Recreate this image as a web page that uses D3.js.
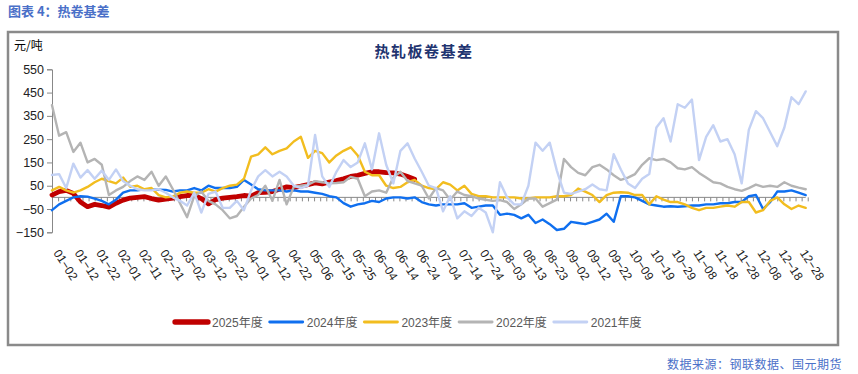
<!DOCTYPE html>
<html><head><meta charset="utf-8">
<script src="https://cdn.jsdelivr.net/npm/d3@7"></script>
<style>
body{margin:0;background:#fff;}
svg{display:block;font-family:"Liberation Sans",Arial,sans-serif;}
</style></head>
<body><svg id="c" width="858" height="374"></svg>
<script>
const tickLabels = ["01-02","01-12","01-22","02-01","02-11","02-21","03-02","03-12","03-22","04-01","04-12","04-22","05-06","05-15","05-25","06-04","06-14","06-24","07-04","07-14","07-24","08-03","08-13","08-23","09-02","09-12","09-22","10-09","10-19","10-29","11-08","11-18","11-28","12-08","12-18","12-28"];
const yTicks = [550,450,350,250,150,50,-50,-150];
const seriesNames = ["2025年度","2024年度","2023年度","2022年度","2021年度"];
const seriesColors = ["#c00000","#0f6fef","#f2bd1f","#b4b4b4","#c3d1f4"];
const seriesWidths = [4.8,2.4,2.4,2.4,2.4];

const s2025 = [10,25,30,17,-20,-40,-30,-35,-42,-25,-12,-3,0,3,-5,-12,-8,-3,3,8,10,-5,-28,-10,-3,0,3,8,5,20,22,25,35,45,42,48,55,62,58,66,72,80,90,95,103,110,110,106,105,100,90,78];
const s2024 = [-55,-30,-15,0,5,3,-5,-15,-30,-10,20,30,30,35,33,33,32,25,30,30,40,30,50,40,40,40,45,75,55,35,30,30,30,25,30,25,25,20,15,5,0,-25,-40,-30,-25,-15,-20,-5,0,0,-5,0,-20,-30,-35,-30,-30,-30,-25,-45,-40,-35,-35,-75,-70,-75,-90,-75,-110,-95,-115,-140,-135,-105,-110,-115,-105,-95,-70,-105,5,5,0,-15,-30,-35,-40,-38,-40,-38,-35,-35,-30,-30,-25,-25,-20,-20,5,10,-50,-20,25,25,30,20,10];
const s2023 = [30,45,30,20,30,45,65,80,70,60,85,45,50,35,40,10,0,3,20,25,20,20,35,25,40,50,55,80,175,185,215,185,200,210,240,260,170,200,190,150,180,200,215,180,110,95,95,50,40,45,65,75,50,40,35,65,55,30,50,15,5,5,0,0,0,0,-5,-5,0,0,0,5,5,10,38,25,10,-20,10,20,22,20,10,10,-30,5,-10,-20,-20,-30,-45,-55,-45,-45,-40,-35,-40,-20,-20,-65,-55,-15,0,-30,-50,-35,-45];
const s2022 = [396,265,280,195,235,150,165,140,10,30,45,70,90,75,110,50,90,35,-25,-85,5,25,-15,-30,-55,-90,-80,-40,-5,10,50,-15,75,-30,45,50,55,70,65,60,62,65,88,80,5,25,30,20,85,110,70,60,50,-5,40,30,-10,25,10,5,-5,-10,-15,-12,-20,-50,-30,-5,-5,-40,-25,-10,165,130,105,95,130,140,120,95,75,85,100,140,168,160,165,150,125,120,130,105,85,65,60,45,35,28,40,55,45,50,45,65,50,42,35];
const s2021 = [96,100,40,145,85,117,80,115,75,120,70,50,35,30,30,35,20,0,-15,-35,20,-65,15,25,-45,-45,-15,-55,30,90,117,90,110,90,50,40,50,268,90,45,110,160,130,150,232,120,275,140,60,200,232,167,110,50,40,-60,5,-90,-60,-80,-45,-65,-150,65,0,-30,-30,50,235,200,235,115,20,15,25,35,55,35,30,185,120,60,40,80,100,300,340,240,400,385,420,160,260,310,240,250,185,60,290,370,340,280,220,300,430,400,455];
const seriesData = [s2025,s2024,s2023,s2022,s2021];

const svg = d3.select("#c");

// page title
svg.append("text").attr("x",8).attr("y",16).attr("fill","#4a70c8")
  .attr("font-family","'Noto Sans CJK SC',sans-serif").attr("font-weight","bold").attr("font-size",13)
  .text("图表 4：热卷基差");
// box
svg.append("rect").attr("x",8).attr("y",32).attr("width",830).attr("height",313)
  .attr("fill","none").attr("stroke","#8a8a8a").attr("stroke-width",2.5);
// footer
svg.append("text").attr("x",842).attr("y",369).attr("text-anchor","end").attr("fill","#4a70c8")
  .attr("font-family","'Noto Sans CJK SC',sans-serif").attr("font-size",12).attr("letter-spacing",0.5)
  .text("数据来源：钢联数据、国元期货");
// unit
svg.append("text").attr("x",14).attr("y",50).attr("fill","#000")
  .attr("font-family","'Noto Sans CJK SC',sans-serif").attr("font-size",12).text("元/吨");
// chart title
svg.append("text").attr("x",424).attr("y",57).attr("text-anchor","middle").attr("fill","#1f3470")
  .attr("font-family","'Noto Sans CJK SC',serif").attr("font-weight","bold").attr("font-size",15)
  .attr("letter-spacing",1.5).text("热轧板卷基差");

const x = d3.scaleLinear().domain([0,106]).range([52,805.7]);
const y = d3.scaleLinear().domain([-150,550]).range([232.3,69.3]);

// y axis
const yAxis = svg.append("g").attr("transform","translate(52,0)")
  .call(d3.axisLeft(y).tickValues(yTicks).tickSize(5).tickPadding(3).tickFormat(d=>d<0?"\u2212"+Math.abs(d):d));
yAxis.select(".domain").attr("stroke","#888");
yAxis.selectAll(".tick line").attr("stroke","#888");
yAxis.selectAll(".tick text").attr("fill","#222").attr("font-size",12.5).attr("font-family","'Liberation Sans',Arial,sans-serif");

// x axis at zero
const xTickVals = d3.range(0,107,6/7);
const xAxis = svg.append("g").attr("transform",`translate(0,${y(0)})`)
  .call(d3.axisBottom(x).tickValues(xTickVals).tickSize(4).tickFormat(""));
xAxis.select(".domain").attr("stroke","#888").attr("d",`M52,0H805.7`);
xAxis.selectAll(".tick line").attr("stroke","#888");

// x labels at bottom
svg.append("g").selectAll("text").data(tickLabels).join("text")
  .attr("transform",(d,i)=>`translate(${x(i*3)+1},${253}) rotate(57)`)
  .attr("fill","#222").attr("font-size",12).attr("font-family","'Liberation Sans',Arial,sans-serif")
  .text(d=>d.replace("-","\u2212"));

// lines
const line = d3.line().defined(d=>d!=null).x((d,i)=>x(i)).y(d=>y(d));
svg.append("g").selectAll("path").data(seriesData).join("path")
  .attr("d",d=>line(d)).attr("fill","none")
  .attr("stroke",(d,i)=>seriesColors[i]).attr("stroke-width",(d,i)=>seriesWidths[i])
  .attr("stroke-linejoin","round").attr("stroke-linecap","round");

// legend
const lg = svg.append("g");
let lx = 175;
seriesNames.forEach((n,i)=>{
  lg.append("line").attr("x1",lx).attr("x2",lx+33).attr("y1",322).attr("y2",322)
    .attr("stroke",seriesColors[i]).attr("stroke-width",seriesWidths[i]+0.5).attr("stroke-linecap","round");
  const t = lg.append("text").attr("x",lx+37).attr("y",326.5).attr("fill","#595959")
    .attr("font-size",12).attr("font-family","'Liberation Sans','Noto Sans CJK SC',sans-serif").text(n);
  lx += 37 + t.node().getComputedTextLength() + 7;
});
</script></body></html>
